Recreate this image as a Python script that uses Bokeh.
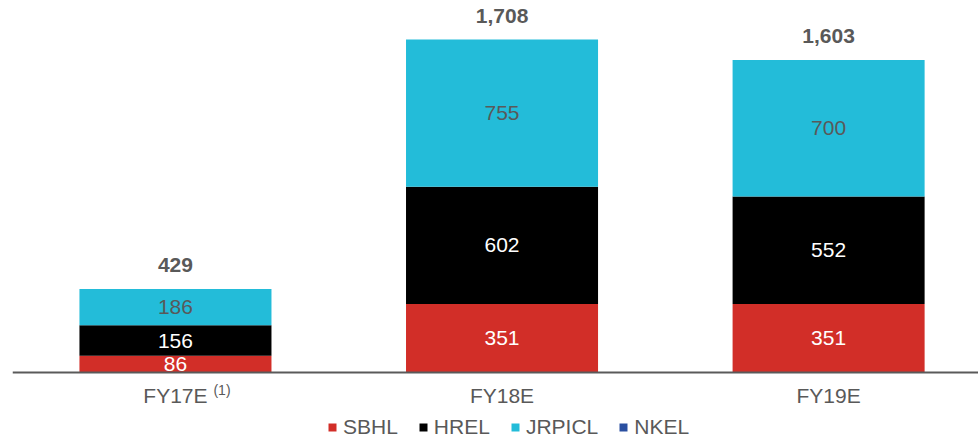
from bokeh.plotting import figure
from bokeh.models import (ColumnDataSource, Range1d, FixedTicker, Legend, LegendItem, Label)
from bokeh.core.properties import value
from bokeh.embed import file_html
from bokeh.resources import INLINE

categories = ["FY17E", "FY18E", "FY19E"]
sbhl = [86, 351, 351]
hrel = [156, 602, 552]
jrpicl = [186, 755, 700]
nkel = [0, 0, 0]
totals = ["429", "1,708", "1,603"]
series_names = ["SBHL", "HREL", "JRPICL", "NKEL"]
colors = ["#d22e28", "#000000", "#23bcd9", "#2a4fa0"]
label_colors = ["#ffffff", "#ffffff", "#595959", "#ffffff"]
footnote = "(1)"

FONT = "Liberation Sans"
GRAY = "#595959"

xs = list(range(len(categories)))
src = ColumnDataSource(dict(x=xs, SBHL=sbhl, HREL=hrel, JRPICL=jrpicl, NKEL=nkel))

p = figure(width=978, height=439, x_range=Range1d(-0.499, 2.459), y_range=Range1d(-343.7, 1908.1),
           output_backend="svg", toolbar_location=None, y_axis_location=None,
           min_border_left=12, min_border_right=0, min_border_top=0, min_border_bottom=0)
p.outline_line_color = None
p.xgrid.visible = False
p.ygrid.visible = False

renderers = p.vbar_stack(series_names, x="x", width=0.588, color=colors, line_color=None, source=src)

# segment labels
series_vals = [sbhl, hrel, jrpicl, nkel]
bottoms = [0] * len(categories)
for vals, lc in zip(series_vals, label_colors):
    lx, ly, lt = [], [], []
    for i, v in enumerate(vals):
        if v > 0:
            lx.append(xs[i]); ly.append(bottoms[i] + v / 2); lt.append(str(v))
    if lx:
        p.text(x=lx, y=ly, text=lt, text_align="center", text_baseline="middle",
               text_font=value(FONT), text_font_size="21px", text_color=lc)
    bottoms = [b + v for b, v in zip(bottoms, vals)]

# totals
p.text(x=xs, y=bottoms, text=totals, text_align="center", text_baseline="middle", y_offset=-24,
       text_font=value(FONT), text_font_size="21px", text_font_style="bold", text_color=GRAY)

ax = p.xaxis[0]
ax.fixed_location = 0
ax.ticker = FixedTicker(ticks=xs)
ax.major_label_overrides = {i: c for i, c in zip(xs, categories)}
ax.major_label_text_font = FONT
ax.major_label_text_font_size = "21px"
ax.major_label_text_color = GRAY
ax.axis_line_color = "#5a5a5a"
ax.axis_line_width = 2
ax.major_tick_line_color = None
ax.minor_tick_line_color = None
ax.major_label_standoff = 6

# superscript note on first category
p.add_layout(Label(x=xs[0], y=0, text=footnote, x_offset=38, y_offset=-10, text_baseline="top",
                   text_font=FONT, text_font_size="14px", text_color=GRAY))

legend = Legend(items=[LegendItem(label=n, renderers=[r]) for n, r in zip(series_names, renderers)],
                orientation="horizontal", location=(315, 0))
legend.border_line_color = None
legend.background_fill_alpha = 0
legend.label_text_font = FONT
legend.label_text_font_size = "21px"
legend.label_text_color = GRAY
legend.glyph_width = 10
legend.glyph_height = 10
legend.label_standoff = 6
legend.spacing = 20
legend.padding = 0
legend.margin = 0
p.add_layout(legend)

open("out.html", "w").write(file_html(p, INLINE))
